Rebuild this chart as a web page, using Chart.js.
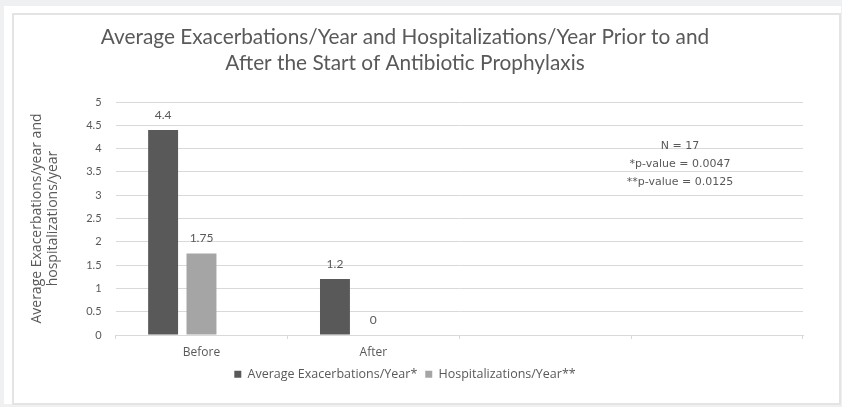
<!DOCTYPE html>
<html>
<head>
<meta charset="utf-8">
<script src="https://cdn.jsdelivr.net/npm/chart.js@4.4.1/dist/chart.umd.min.js"></script>
<style>
    html, body { margin: 0; padding: 0; background: #eff0f2; }
    #panel { position: absolute; left: 4px; top: 6px; width: 837px; height: 398px; background: #fff; }
    #frame { position: absolute; left: 12px; top: 13px; width: 825px; height: 388px; border: 2px solid #e4e4e4; }
    #chart { position: absolute; left: 0; top: 0; }
</style>
</head>
<body>
<div id="panel"></div>
<div id="frame"></div>
<canvas id="chart" width="842" height="407"></canvas>
<script>
// Chart data
const categories = ['Before', 'After', '', ''];
const exacerbationsPerYear = [4.4, 1.2, null, null];
const hospitalizationsPerYear = [1.75, 0, null, null];
const emptySeries = [null, null, null, null]; // third (unused) slot in each group
const seriesNames = ['Average Exacerbations/Year*', 'Hospitalizations/Year**'];
const titleLines = [
    'Average Exacerbations/Year and Hospitalizations/Year Prior to and',
    'After the Start of Antibiotic Prophylaxis'
];
const yAxisTitle = ['Average Exacerbations/year and', 'hospitalizations/year'];
const yMin = 0;
const yMax = 5;
const yStep = 0.5;
const noteLines = ['N = 17', '*p-value = 0.0047', '**p-value = 0.0125'];

const TEXT = '#595959';
const GRID = '#d9d9d9';

// Values above the bars
const valueLabels = {
    id: 'valueLabels',
    afterDatasetsDraw(chart) {
        const ctx = chart.ctx;
        ctx.save();
        ctx.font = '12px Lato';
        ctx.fillStyle = TEXT;
        ctx.textAlign = 'center';
        ctx.textBaseline = 'middle';
        chart.data.datasets.forEach((ds, i) => {
            chart.getDatasetMeta(i).data.forEach((bar, j) => {
                const v = ds.data[j];
                if (v === null || v === undefined) return;
                ctx.fillText(String(v), bar.x, bar.y - 15);
            });
        });
        ctx.restore();
    }
};

// N and p-value note inside the plot
const noteBox = {
    id: 'noteBox',
    afterDraw(chart) {
        const { ctx, chartArea } = chart;
        const x = chartArea.left + (chartArea.right - chartArea.left) * 0.821;
        ctx.save();
        ctx.font = '11px "DejaVu Sans"';
        ctx.fillStyle = TEXT;
        ctx.textAlign = 'center';
        ctx.textBaseline = 'middle';
        noteLines.forEach((line, i) => {
            ctx.fillText(line, x, chartArea.top + 44 + i * 18);
        });
        ctx.restore();
    }
};

const chart = new Chart(document.getElementById('chart'), {
    type: 'bar',
    data: {
        labels: categories,
        datasets: [
            { label: seriesNames[0], data: exacerbationsPerYear, backgroundColor: '#595959' },
            { label: seriesNames[1], data: hospitalizationsPerYear, backgroundColor: '#a5a5a5' },
            { label: '', data: emptySeries, backgroundColor: '#ffffff' }
        ]
    },
    options: {
        responsive: false,
        animation: false,
        categoryPercentage: 0.67,
        barPercentage: 0.78,
        layout: { padding: { left: 7, right: 39, top: 0, bottom: 16.5 } },
        plugins: {
            title: {
                display: true,
                text: titleLines,
                color: TEXT,
                font: { family: 'Lato', size: 20.8, weight: 'normal', lineHeight: 1.25 },
                padding: { top: 24, bottom: 26 }
            },
            legend: {
                position: 'bottom',
                labels: {
                    filter: (item) => item.text !== '',
                    color: TEXT,
                    boxWidth: 7,
                    boxHeight: 7,
                    padding: 8,
                    font: { family: 'Open Sans', size: 12.5 }
                }
            },
            tooltip: { enabled: false }
        },
        scales: {
            x: {
                grid: { display: true, drawOnChartArea: false, drawTicks: true, tickLength: 4, color: GRID, offset: true },
                border: { display: true, color: GRID },
                ticks: { color: TEXT, padding: 6, font: { family: 'Open Sans', size: 12 }, maxRotation: 0 },
                // keep the legend close under the category labels
                afterFit: (scale) => { scale.height = 25; }
            },
            y: {
                min: yMin,
                max: yMax,
                grid: { color: GRID, drawTicks: false },
                border: { display: false },
                ticks: {
                    stepSize: yStep,
                    padding: 14,
                    color: TEXT,
                    font: { family: 'Lato', size: 11 },
                    callback: (v) => String(v)
                },
                title: {
                    display: true,
                    text: yAxisTitle,
                    color: TEXT,
                    font: { family: 'Open Sans', size: 14, lineHeight: 1.15 },
                    padding: { top: 22, bottom: 11 }
                }
            }
        }
    },
    plugins: [valueLabels, noteBox]
});
</script>
</body>
</html>
